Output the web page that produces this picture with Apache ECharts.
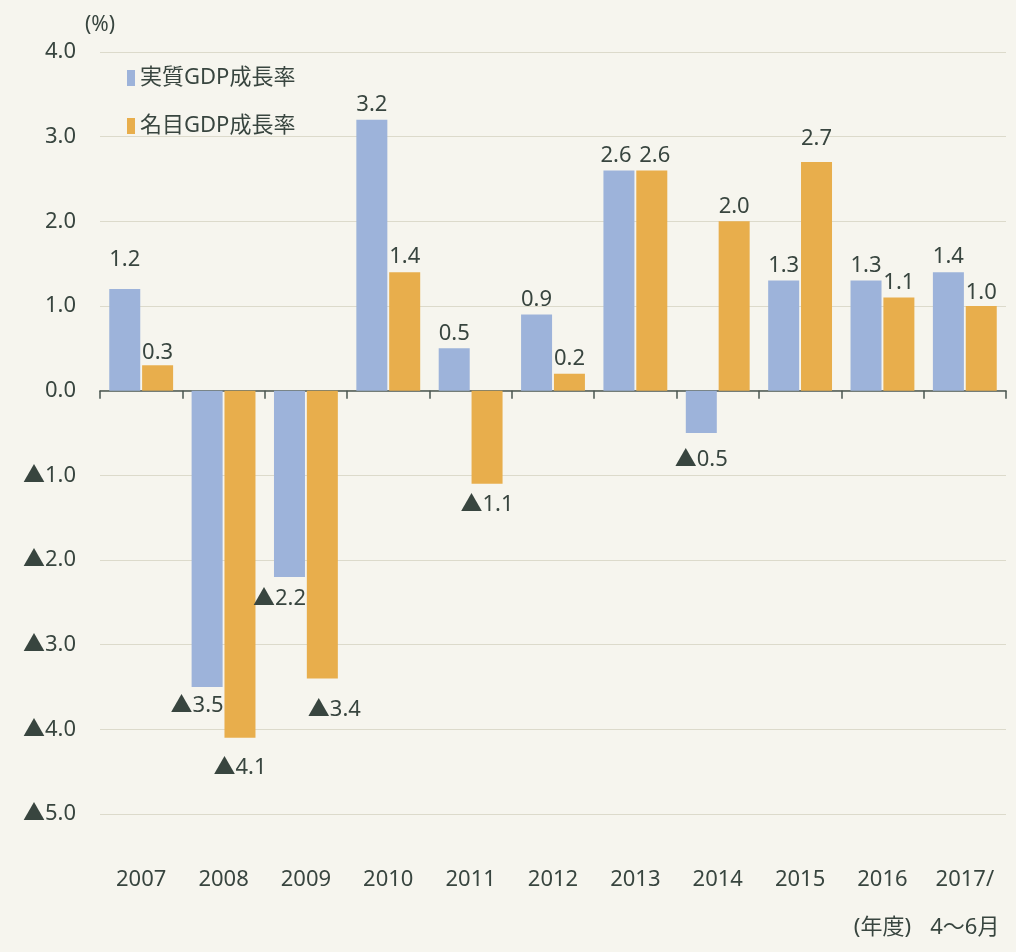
<!DOCTYPE html>
<html><head><meta charset="utf-8">
<script src="https://cdn.jsdelivr.net/npm/echarts@6/dist/echarts.min.js"></script>
<style>html,body{margin:0;padding:0;background:#f6f5ee;}#c{width:1016px;height:952px;}</style>
</head><body><div id="c"></div>
<script>
const categories = ['2007','2008','2009','2010','2011','2012','2013','2014','2015','2016\n(年度)','2017/\n4〜6月'];
const realGDP = [1.2, -3.5, -2.2, 3.2, 0.5, 0.9, 2.6, -0.5, 1.3, 1.3, 1.4];
const nominalGDP = [0.3, -4.1, -3.4, 1.4, -1.1, 0.2, 2.6, 2.0, 2.7, 1.1, 1.0];
const seriesNames = ['実質GDP成長率', '名目GDP成長率'];
const yTicks = [-5, -4, -3, -2, -1, 0, 1, 2, 3, 4];

const FONT = "'Noto Sans','Noto Sans CJK JP',sans-serif";
const TXT = '#38453f';
const fmt = v => v < 0 ? '▲' + Math.abs(v).toFixed(1) : v.toFixed(1);

// label offsets (layout only)
const realOffsets = {0: [0, -14], 1: [-10, 4], 2: [-10, 7], 6: [-3, 0], 7: [0, 12]};
const nomOffsets = {0: [0, 2], 1: [0, 15], 2: [12, 16], 4: [0, 6], 6: [3, 0], 8: [0, -8], 10: [0, 2]};

function build(values, offsets) {
  return values.map((v, i) => ({
    value: v,
    label: {
      position: v < 0 ? 'bottom' : 'top',
      offset: offsets[i] || [0, 0]
    }
  }));
}

const chart = echarts.init(document.getElementById('c'), null, {renderer: 'canvas'});
chart.setOption({
  backgroundColor: '#f6f5ee',
  animation: false,
  textStyle: {fontFamily: FONT, color: TXT},
  grid: {left: 100, right: 10, top: 52, bottom: 126, containLabel: false},
  legend: {
    data: seriesNames,
    orient: 'vertical',
    left: 122, top: 62,
    itemWidth: 8, itemHeight: 16, itemGap: 26,
    icon: 'rect',
    textStyle: {fontSize: 22, color: TXT, fontFamily: FONT}
  },
  xAxis: [{
    type: 'category', data: categories, position: 'bottom',
    axisLine: {show: false, onZero: false}, axisTick: {show: false},
    axisLabel: {fontSize: 22, color: TXT, fontFamily: FONT, margin: 42, lineHeight: 48, interval: 0}
  }, {
    type: 'category', data: categories, position: 'bottom',
    axisLine: {show: true, onZero: true, onZeroAxisIndex: 0, lineStyle: {color: '#4a5550', width: 1.5}},
    axisTick: {show: true, length: 8, lineStyle: {color: '#4a5550', width: 1.5}},
    axisLabel: {show: false}, splitLine: {show: false}
  }],
  yAxis: {
    type: 'value', min: yTicks[0], max: yTicks[yTicks.length - 1], interval: 1,
    name: '(%)', nameLocation: 'end', nameGap: 16,
    nameTextStyle: {fontSize: 21, color: TXT, fontFamily: FONT, align: 'center'},
    axisLine: {show: false}, axisTick: {show: false},
    axisLabel: {fontSize: 22, color: TXT, fontFamily: FONT, margin: 24, formatter: fmt},
    splitLine: {lineStyle: {color: '#dcdacb', width: 1}}
  },
  series: [{
    name: seriesNames[0], type: 'bar', xAxisIndex: 0,
    data: build(realGDP, realOffsets),
    barWidth: 31, barGap: '6%',
    itemStyle: {color: '#9db3da'},
    label: {show: true, fontSize: 22, color: TXT, fontFamily: FONT, distance: 4, formatter: p => fmt(p.value)}
  }, {
    name: seriesNames[1], type: 'bar', xAxisIndex: 0,
    data: build(nominalGDP, nomOffsets),
    barWidth: 31,
    itemStyle: {color: '#e8ae4c'},
    label: {show: true, fontSize: 22, color: TXT, fontFamily: FONT, distance: 4, formatter: p => fmt(p.value)}
  }]
});
</script>
</body></html>
